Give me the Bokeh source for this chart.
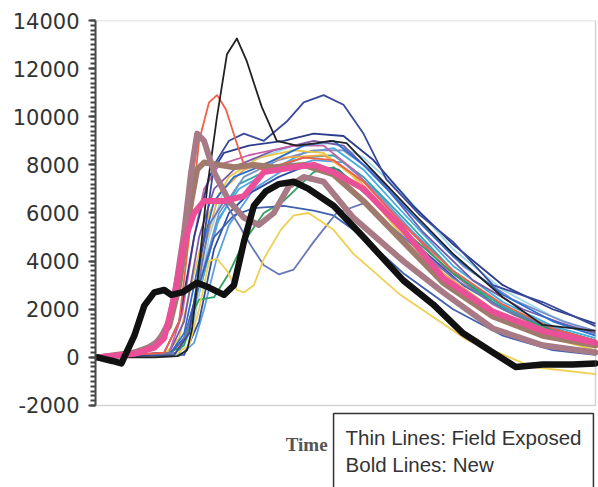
from bokeh.plotting import figure
from bokeh.models import Range1d, Label, SingleIntervalTicker, BoxAnnotation, PrintfTickFormatter
from bokeh.embed import file_html
from bokeh.resources import INLINE

# ---- data (time in arbitrary units 0..100, value in counts) ----
# Thin lines: field exposed
black_t = [0, 11.4, 16, 18, 19, 20, 22, 24, 26, 28, 30, 31.4, 33, 36, 40, 44, 46.8, 50, 57.4, 63.4, 71.4, 81.4, 89.4, 100]
black_y = [0, 0, 50, 300, 1200, 3000, 7000, 10000, 12600, 13250, 12300, 11400, 10400, 9000, 8800, 8900, 9000, 8900, 7300, 6000, 4300, 2500, 1350, 1100]

red_t = [0, 13.4, 16.4, 18.4, 20.4, 22.4, 24, 25.8, 27.8, 29.4, 33.4, 41.4, 47.4, 53.4, 61.4, 71.4, 81.4, 91.4, 100]
red_y = [0, 200, 1500, 5000, 9000, 10600, 10900, 10300, 9000, 8000, 7800, 8300, 8200, 7300, 5500, 3600, 2200, 1200, 700]

navy_t = [0, 15.4, 18.4, 21.4, 23.4, 26.4, 29.4, 33.4, 38, 41.4, 45.4, 49.4, 53.4, 58, 64.8, 71.4, 79.4, 89.4, 100]
navy_y = [0, 100, 1000, 5000, 8000, 9000, 9300, 9000, 9800, 10600, 10900, 10500, 9300, 7400, 5900, 4800, 3000, 2300, 1300]

dip_t = [0, 16.4, 19.4, 22.4, 25.4, 28.4, 30.8, 33.4, 36.4, 39.4, 43.4, 48, 53.4, 61.4, 71.4, 81.4, 91.4, 100]
dip_y = [0, 200, 2000, 5500, 6500, 5500, 4650, 3830, 3450, 3650, 4800, 6000, 6400, 5000, 3300, 2000, 1200, 700]

blue2_t = [0, 14.4, 17.4, 20.4, 23.4, 27.4, 31.4, 37.4, 43.4, 47.4, 53.4, 61.4, 71.4, 81.4, 91.4, 100]
blue2_y = [0, 100, 800, 3000, 5000, 5900, 6200, 6300, 6100, 5900, 5000, 3500, 2000, 900, 300, 100]

yellow_t = [0, 15.4, 18.4, 20.4, 22.4, 24, 26, 28, 29.4, 31.4, 33.4, 36.8, 39.4, 42.4, 47.4, 51.4, 60.8, 74, 87.4, 100]
yellow_y = [0, 100, 500, 2000, 4000, 4100, 3600, 2800, 2700, 3000, 4100, 5300, 5900, 6000, 5300, 4300, 2600, 750, -400, -700]

green_t = [0, 13.4, 17.4, 19.4, 20.4, 23.4, 26.4, 29.4, 33.4, 37.4, 43.4, 47.4, 53.4, 61.4, 71.4, 81.4, 91.4, 100]
green_y = [0, 100, 500, 2000, 2400, 2500, 3500, 4800, 6000, 6500, 7700, 7900, 7000, 5300, 3500, 2000, 1100, 600]

b1_t = [0, 14.4, 17.4, 20.4, 23.4, 27.4, 33.4, 41.4, 47.4, 53.4, 61.4, 71.4, 81.4, 91.4, 100]
b1_y = [0, 100, 1000, 4000, 6500, 7500, 8000, 8800, 9000, 8000, 6300, 4200, 2600, 1500, 900]
b2_t = [0, 15.4, 18.4, 21.4, 24.4, 28.4, 33.4, 41.4, 47.4, 53.4, 61.4, 71.4, 81.4, 91.4, 100]
b2_y = [0, 100, 1000, 3500, 5800, 7000, 7600, 8500, 8700, 7800, 6000, 3800, 2300, 1300, 800]
b3_t = [0, 13.4, 16.4, 19.4, 22.4, 25.4, 30.4, 37.4, 43.4, 49.4, 55.4, 63.4, 71.4, 81.4, 91.4, 100]
b3_y = [0, 200, 1500, 5000, 7500, 8500, 8800, 9000, 9300, 9200, 8200, 6300, 4700, 3000, 2000, 1400]
b4_t = [0, 15.4, 18, 20.8, 23.8, 28.4, 34.4, 41.4, 47.4, 53.4, 61.4, 71.4, 81.4, 91.4, 100]
b4_y = [0, 100, 800, 3000, 5500, 7200, 7800, 8300, 8400, 7500, 5800, 3600, 2100, 1200, 700]
b5_t = [0, 14.4, 17.4, 20.4, 23.4, 28.4, 35.4, 43.4, 49.4, 57.4, 65.4, 75.4, 85.4, 93.4, 100]
b5_y = [0, 200, 1500, 5000, 7000, 8000, 8600, 9000, 8800, 7200, 5200, 3200, 2000, 1400, 1000]
b6_t = [0, 13.4, 16.4, 19.4, 22.4, 26.4, 32.4, 39.4, 45.4, 51.4, 59.4, 69.4, 79.4, 89.4, 100]
b6_y = [0, 100, 800, 3500, 6000, 7500, 8300, 8600, 8500, 7500, 5500, 3300, 1800, 900, 300]
b7_t = [0, 15.4, 18.4, 21.4, 24.4, 29.4, 37.4, 45.4, 51.4, 59.4, 69.4, 79.4, 89.4, 100]
b7_y = [0, 100, 1200, 4500, 6800, 7800, 8300, 8400, 7600, 5800, 3500, 2000, 1000, 400]
b8_t = [0, 16.4, 19.4, 22.4, 25.4, 31.4, 39.4, 47.4, 53.4, 61.4, 71.4, 81.4, 91.4, 100]
b8_y = [0, 100, 1500, 5000, 7000, 8200, 8800, 8900, 8300, 6800, 4500, 2800, 1700, 1000]
b9_t = [0, 17.4, 20.4, 23.4, 26.4, 30.4, 36.4, 42.4, 48.4, 55.4, 63.4, 73.4, 83.4, 93.4, 100]
b9_y = [0, 100, 1500, 4500, 6000, 6800, 7500, 8000, 7800, 6500, 4800, 3000, 1800, 1000, 600]
b10_t = [0, 14.4, 17.4, 20.4, 24.4, 29.4, 36.4, 43.4, 49.4, 55.4, 63.4, 73.4, 83.4, 93.4, 100]
b10_y = [0, 100, 800, 3000, 6000, 7500, 8200, 8600, 8600, 7700, 5900, 3800, 2400, 1500, 1100]
b11_t = [0, 14.4, 17, 19.4, 21.4, 24.4, 30.4, 39.4, 45.4, 51.4, 59.4, 69.4, 79.4, 89.4, 100]
b11_y = [0, 200, 1800, 5000, 7000, 8000, 8400, 8800, 8800, 7800, 6000, 3800, 2200, 1200, 700]
b12_t = [0, 16.4, 19.4, 21.4, 23.8, 26.4, 31.4, 37.4, 43.4, 49.4, 55.4, 63.4, 73.4, 83.4, 93.4, 100]
b12_y = [0, 50, 600, 2000, 4000, 5500, 7000, 7800, 8200, 8100, 7000, 5200, 3200, 1900, 1100, 700]

# Bold lines: new
nbrownB_t = [0, 7.4, 11.4, 14.4, 16.4, 18.4, 20, 21.4, 24.4, 27.4, 31.4, 35.4, 41.4, 47.4, 53.4, 61.4, 69.4, 79.4, 89.4, 100]
nbrownB_y = [0, 200, 500, 1300, 3000, 6000, 7800, 8100, 8000, 7900, 8000, 7900, 8000, 7600, 6500, 4800, 3100, 1700, 900, 500]
nbrownA_t = [0, 5.4, 9.4, 12.4, 14.4, 15.8, 17.4, 18.8, 20, 21.4, 23.4, 26.4, 29.4, 32.4, 35.4, 38.4, 41.4, 45.4, 51.4, 61.4, 69.4, 79.4, 89.4, 100]
nbrownA_y = [0, 100, 300, 700, 1500, 3000, 5200, 7700, 9300, 9000, 7700, 6500, 5800, 5500, 6000, 7100, 7500, 7300, 5800, 4000, 2700, 1200, 500, 200]
npink_t = [0, 7.4, 11.4, 13.4, 15.4, 17.4, 19.4, 21.4, 25.4, 29.4, 33.4, 39.4, 43.4, 47.4, 53.4, 61.4, 69.4, 79.4, 89.4, 100]
npink_y = [0, 150, 400, 800, 2500, 4800, 6000, 6500, 6500, 6700, 7700, 7900, 8000, 7700, 7000, 5300, 3300, 1900, 1100, 600]
nblack_t = [0, 3, 4.8, 7.4, 9.4, 11.4, 13.4, 14.8, 17, 20, 22.4, 25.4, 27.4, 29.4, 31.4, 33.8, 36.4, 39.4, 42.4, 47.4, 53.4, 61.4, 67.4, 73.4, 79.4, 84, 89.4, 95.4, 100]
nblack_y = [0, -150, -250, 900, 2150, 2700, 2800, 2600, 2700, 3100, 2900, 2600, 3000, 4800, 6300, 6900, 7200, 7300, 7000, 6300, 5000, 3200, 2200, 1000, 200, -400, -300, -300, -250]

y_ticks = [-2000, 0, 2000, 4000, 6000, 8000, 10000, 12000, 14000]
x_label = "Time"
legend_lines = ["Thin Lines: Field Exposed", "Bold Lines: New"]

thin_series = [
    (b12_t, b12_y, "#5aa0e0"), (b9_t, b9_y, "#3050a8"), (b4_t, b4_y, "#30a8a8"),
    (b2_t, b2_y, "#40aee0"), (b8_t, b8_y, "#9fd8e8"), (b10_t, b10_y, "#7890c8"),
    (b6_t, b6_y, "#e8c840"), (b7_t, b7_y, "#f0a848"), (b5_t, b5_y, "#7a5aa8"),
    (b11_t, b11_y, "#c860a8"), (b1_t, b1_y, "#2a6fd0"), (b3_t, b3_y, "#2c3c8c"),
    (green_t, green_y, "#30a060"), (blue2_t, blue2_y, "#4060b0"),
    (dip_t, dip_y, "#6878b8"), (yellow_t, yellow_y, "#f0d050"),
    (navy_t, navy_y, "#3a4a9a"), (red_t, red_y, "#f0604a"),
    (black_t, black_y, "#222222"),
]
bold_series = [
    (nbrownB_t, nbrownB_y, "#a07a6c", 6),
    (nbrownA_t, nbrownA_y, "#a87a86", 6),
    (npink_t, npink_y, "#ea4f98", 6),
    (nblack_t, nblack_y, "#111111", 6.5),
]

Y_MIN, Y_MAX = y_ticks[0], y_ticks[-1]
X_MIN, X_MAX = -0.4, 100

# frame spans whole lower area so that the text below the axis can sit inside it
p = figure(width=598, height=487, output_backend="svg", toolbar_location=None,
           x_range=Range1d(X_MIN, 100.6), y_range=Range1d(-5408, Y_MAX),
           min_border_left=95, min_border_right=0, min_border_top=20, min_border_bottom=0,
           x_axis_location=None)
p.grid.visible = False
p.outline_line_color = None
p.background_fill_color = "white"
p.border_fill_color = "white"

# plot-area border
p.add_layout(BoxAnnotation(left=X_MIN, right=X_MAX, bottom=Y_MIN, top=Y_MAX,
                           fill_alpha=0, line_color="#707070", line_width=1.5))

for t, y, c in thin_series:
    p.line(t, y, line_color=c, line_width=1.8, line_join="round")
for t, y, c, w in bold_series:
    p.line(t, y, line_color=c, line_width=w, line_join="round", line_cap="round")

ax = p.yaxis[0]
ax.ticker = SingleIntervalTicker(interval=2000, num_minor_ticks=10)
ax.formatter = PrintfTickFormatter(format="%d")
ax.bounds = (Y_MIN, Y_MAX)
ax.major_label_text_font = "DejaVu Sans"
ax.major_label_text_font_size = "21px"
ax.major_label_text_color = "#333333"
ax.major_label_standoff = 9
ax.axis_line_color = "#444444"
ax.axis_line_width = 2
ax.major_tick_line_color = "#444444"
ax.major_tick_line_width = 2
ax.major_tick_in = 0
ax.major_tick_out = 7
ax.minor_tick_line_color = "#444444"
ax.minor_tick_line_width = 2
ax.minor_tick_in = 0
ax.minor_tick_out = 5

p.add_layout(Label(x=37.8, y=-3620, text=x_label, text_font="Liberation Serif",
                   text_font_size="19px", text_font_style="bold", text_color="#555555",
                   text_baseline="alphabetic"))
p.add_layout(Label(x=47.4, y=-2333, text="\n".join(legend_lines), text_font="Liberation Sans",
                   text_font_size="20.5px", text_color="#333333",
                   text_align="left", text_baseline="top",
                   border_line_color="#333333", border_line_width=1.5,
                   background_fill_color="white", padding=12))

open("out.html", "w").write(file_html(p, INLINE))
